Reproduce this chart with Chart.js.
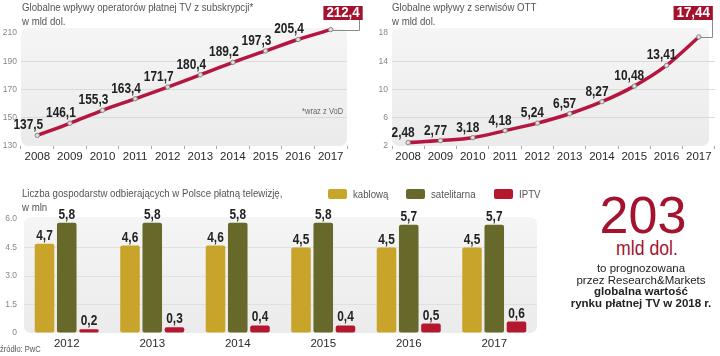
<!DOCTYPE html>
<html><head><meta charset="utf-8">
<script src="https://cdn.jsdelivr.net/npm/chart.js@4"></script>
<style>
html,body{margin:0;padding:0;background:#fff;}
#wrap{position:relative;width:720px;height:356px;overflow:hidden;font-family:"Liberation Sans",Arial,sans-serif;color:#4a4a4a;}
canvas{position:absolute;}
.t{position:absolute;white-space:nowrap;}
.cn{transform:scaleX(0.84);transform-origin:0 0;}
.ttl{font-size:11.5px;line-height:14px;color:#555;}
.big{color:#a5122e;text-align:center;width:160px;}
.desc{font-size:11.5px;line-height:11.5px;color:#222;text-align:center;width:180px;left:551px;}
#legend{position:absolute;left:328px;top:188px;display:flex;align-items:center;font-size:11.5px;color:#555;}
#legend .it{display:flex;align-items:center;margin-right:18px;}
#legend .sw{width:19px;height:10px;border-radius:2px;margin-right:6px;}
#legend .tx{display:inline-block;transform:scaleX(0.84);transform-origin:0 50%;}
</style></head><body>
<div id="wrap">
<canvas id="c1" width="370" height="170" style="left:0;top:0;width:370px;height:170px"></canvas>
<canvas id="c2" width="360" height="170" style="left:360px;top:0;width:360px;height:170px"></canvas>
<canvas id="c3" width="560" height="196" style="left:0;top:160px;width:560px;height:196px"></canvas>

<div class="t ttl cn" style="left:22px;top:0px">Globalne wpływy operatorów płatnej TV z subskrypcji*<br>w mld dol.</div>
<div class="t ttl cn" style="left:392px;top:0px">Globalne wpływy z serwisów OTT<br>w mld dol.</div>
<div class="t cn" style="left:302px;top:106px;font-size:9px;color:#666">*wraz z VoD</div>
<div class="t ttl cn" style="left:22px;top:186px">Liczba gospodarstw odbierających w Polsce płatną telewizję,<br>w mln</div>
<div id="legend"></div>
<div class="t cn" style="left:0px;top:344px;font-size:9px;color:#555">źródło: PwC</div>

<div class="t big" style="left:563px;top:189px;font-size:52px;line-height:52px">203</div>
<div class="t big" style="left:567px;top:237px;font-size:21px;line-height:21px;transform:scaleX(0.84);transform-origin:50% 0">mld dol.</div>
<div class="t desc" style="top:263px">to prognozowana<br>przez Research&amp;Markets<br><b>globalna wartość<br>rynku płatnej TV w 2018 r.</b></div>
</div>
<script>
// ---- data ----
const years = ['2008','2009','2010','2011','2012','2013','2014','2015','2016','2017'];
const payTvRevenue = [137.5,146.1,155.3,163.4,171.7,180.4,189.2,197.3,205.4,212.4];
const ottRevenue = [2.48,2.77,3.18,4.18,5.24,6.57,8.27,10.48,13.41,17.44];
const payTvTicks = [130,150,170,190,210];
const ottTicks = [2,6,10,14,18];
const hhYears = ['2012','2013','2014','2015','2016','2017'];
const cableHH = [4.7,4.6,4.6,4.5,4.5,4.5];
const satelliteHH = [5.8,5.8,5.8,5.8,5.7,5.7];
const iptvHH = [0.2,0.3,0.4,0.4,0.5,0.6];
const hhTicks = [0,1.5,3,4.5,6];
const seriesLabels = ['kablową','satelitarna','IPTV'];

// ---- styles ----
const FONT = "'Liberation Sans',Arial,sans-serif";
const LINE_RED = '#b5163f';
const BOX_RED = '#a5122e';
const fmt = v => String(v).replace('.', ',');

function condensedText(ctx, txt, x, y, sx) {
  ctx.save();
  ctx.translate(x, y);
  ctx.scale(sx, 1);
  ctx.fillText(txt, 0, 0);
  ctx.restore();
}

const panelBg = {
  id: 'panelBg',
  beforeDraw(chart, args, opts) {
    const {ctx, chartArea: a} = chart;
    const top = a.top - (opts.padTop || 0);
    const bottom = a.bottom + (opts.padBottom || 0);
    const g = ctx.createLinearGradient(0, top, 0, bottom);
    g.addColorStop(0, '#f5f5f5'); g.addColorStop(1, '#ebebeb');
    ctx.save();
    ctx.fillStyle = g;
    ctx.beginPath();
    ctx.roundRect(a.left, top, a.right - a.left - (opts.padRight || 0), bottom - top, 7);
    ctx.fill();
    ctx.restore();
  }
};

const lineLabels = {
  id: 'lineLabels',
  afterDatasetsDraw(chart, args, opts) {
    const ctx = chart.ctx;
    const meta = chart.getDatasetMeta(0);
    const data = chart.data.datasets[0].data;
    ctx.save();
    ctx.textAlign = 'center';
    ctx.textBaseline = 'middle';
    meta.data.forEach((pt, i) => {
      const txt = fmt(data[i]);
      if (i === data.length - 1) {
        ctx.font = 'bold 14px ' + FONT;
        const w = ctx.measureText(txt).width * 0.95 + 6;
        const right = pt.x + opts.boxDx;
        const top = 6, h = 14;
        const cx = Math.round(right - opts.connInset) + 0.5;
        const ly = Math.round(pt.y) + 0.5;
        ctx.strokeStyle = '#8a8a8a'; ctx.lineWidth = 1;
        ctx.beginPath();
        ctx.moveTo(pt.x + 2, ly);
        ctx.lineTo(cx, ly);
        ctx.lineTo(cx, top + h);
        ctx.stroke();
        ctx.fillStyle = BOX_RED;
        ctx.fillRect(right - w, top, w, h);
        ctx.fillStyle = '#fff';
        condensedText(ctx, txt, right - w / 2, top + h / 2 + 0.5, 0.95);
      } else {
        ctx.font = 'bold 14.5px ' + FONT;
        ctx.fillStyle = '#222';
        condensedText(ctx, txt, pt.x + opts.dx, pt.y + opts.dy, 0.82);
      }
    });
    ctx.restore();
  }
};

const barLabels = {
  id: 'barLabels',
  afterDatasetsDraw(chart) {
    const ctx = chart.ctx;
    ctx.save();
    ctx.font = 'bold 14.5px ' + FONT;
    ctx.fillStyle = '#222';
    ctx.textAlign = 'center';
    ctx.textBaseline = 'middle';
    chart.data.datasets.forEach((ds, di) => {
      chart.getDatasetMeta(di).data.forEach((bar, i) => {
        condensedText(ctx, fmt(ds.data[i]), bar.x, bar.y - 8, 0.82);
      });
    });
    ctx.restore();
  }
};

function lineChart(id, values, ticks, yWidth, padRight, bgPadRight, labelOpts) {
  const lo = ticks[0], hi = ticks[ticks.length - 1];
  return new Chart(document.getElementById(id), {
    type: 'line',
    data: {
      labels: years,
      datasets: [{
        data: values,
        borderColor: LINE_RED,
        borderWidth: 3.5,
        cubicInterpolationMode: 'monotone',
        pointRadius: 2.2,
        pointBackgroundColor: '#dedede',
        pointBorderColor: '#8a8a8a',
        pointBorderWidth: 1,
        clip: false
      }]
    },
    options: {
      responsive: false,
      animation: false,
      layout: { padding: { top: 33, right: padRight, left: 0, bottom: 0 } },
      plugins: {
        legend: { display: false },
        tooltip: { enabled: false },
        panelBg: { padTop: 5, padRight: bgPadRight },
        lineLabels: labelOpts
      },
      scales: {
        x: {
          offset: true,
          grid: { display: true, offset: true, drawOnChartArea: false, drawTicks: true, tickLength: 3, color: '#a8a8a8' },
          border: { display: false },
          ticks: { color: '#2a2a2a', font: { family: FONT, size: 11.5 }, padding: 1, maxRotation: 0, autoSkip: false },
          afterFit(s) { s.height = 24; }
        },
        y: {
          min: lo, max: hi,
          afterBuildTicks(s) { s.ticks = ticks.map(v => ({ value: v })); },
          grid: { drawTicks: false, color: c => (c.index === 0 || c.index === ticks.length - 1) ? 'rgba(0,0,0,0)' : '#dadada' },
          border: { display: false },
          ticks: { color: '#888', font: { family: FONT, size: 8.5 }, padding: 4 },
          afterFit(s) { s.width = yWidth; }
        }
      }
    },
    plugins: [panelBg, lineLabels]
  });
}

lineChart('c1', payTvRevenue, payTvTicks, 21, 23, 0, { dx: -9, dy: -10, boxDx: 32, connInset: 4 });
lineChart('c2', ottRevenue, ottTicks, 32, 3, 6, { dx: -5, dy: -10, boxDx: 14, connInset: 1 });

const barColors = ['#c9a42b', '#67692b', '#b4182f'];
const bars = new Chart(document.getElementById('c3'), {
  type: 'bar',
  data: {
    labels: hhYears,
    datasets: [cableHH, satelliteHH, iptvHH].map((d, i) => ({
      label: seriesLabels[i],
      data: d,
      backgroundColor: barColors[i],
      borderRadius: 2,
      borderSkipped: false,
      barPercentage: 0.88,
      categoryPercentage: 0.78
    }))
  },
  options: {
    responsive: false,
    animation: false,
    layout: { padding: { top: 59, right: 23, left: 0, bottom: 0 } },
    plugins: { legend: { display: false }, tooltip: { enabled: false }, panelBg: { padTop: 2 } },
    scales: {
      x: {
        grid: { display: false, drawTicks: false },
        border: { display: false },
        ticks: { color: '#2a2a2a', font: { family: FONT, size: 11.5 }, padding: 4, maxRotation: 0 },
        afterFit(s) { s.height = 23; }
      },
      y: {
        min: 0, max: 6,
        afterBuildTicks(s) { s.ticks = hhTicks.map(v => ({ value: v })); },
        grid: { drawTicks: false, color: c => (c.index === 0 || c.index === hhTicks.length - 1) ? 'rgba(0,0,0,0)' : '#e0e0e0' },
        border: { display: false },
        ticks: { color: '#888', font: { family: FONT, size: 8.5 }, padding: 7, callback: v => v === 0 ? '0' : v.toFixed(1) },
        afterFit(s) { s.width = 24; }
      }
    }
  },
  plugins: [panelBg, barLabels]
});

// legend built from the chart's datasets
const leg = document.getElementById('legend');
bars.data.datasets.forEach(ds => {
  const it = document.createElement('div'); it.className = 'it';
  const sw = document.createElement('span'); sw.className = 'sw'; sw.style.background = ds.backgroundColor;
  const tx = document.createElement('span'); tx.className = 'tx'; tx.textContent = ds.label;
  it.appendChild(sw); it.appendChild(tx); leg.appendChild(it);
  tx.style.marginRight = (-tx.offsetWidth * 0.16) + 'px';
});
</script>
</body></html>
